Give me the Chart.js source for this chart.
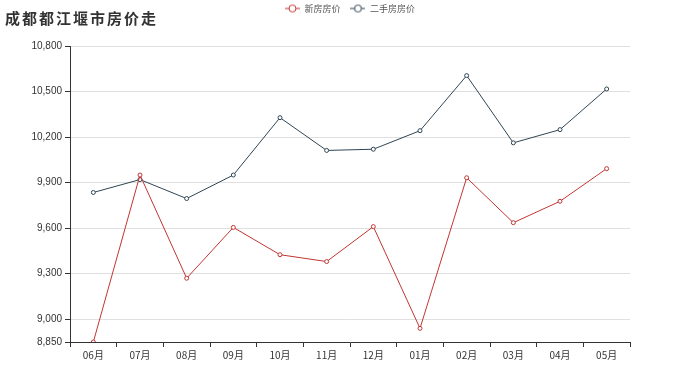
<!DOCTYPE html>
<html><head><meta charset="utf-8">
<script src="https://cdn.jsdelivr.net/npm/chart.js@4/dist/chart.umd.min.js"></script>
<style>
html,body{margin:0;padding:0;background:#fff;}
#wrap{position:relative;width:700px;height:389px;}
#title{position:absolute;left:5px;top:7px;font:bold 15px "Noto Sans CJK SC",sans-serif;letter-spacing:2px;color:#333;}
</style></head>
<body><div id="wrap"><div id="title">成都都江堰市房价走</div><canvas id="c" width="700" height="389"></canvas></div>
<script>
const categories = ['06月','07月','08月','09月','10月','11月','12月','01月','02月','03月','04月','05月'];
const newHouse = [8850, 9950, 9270, 9605, 9425, 9380, 9610, 8940, 9932, 9636, 9777, 9992];
const secondHand = [9835, 9920, 9795, 9950, 10328, 10112, 10120, 10242, 10605, 10162, 10249, 10517];
const yTicks = [8850, 9000, 9300, 9600, 9900, 10200, 10500, 10800];
const seriesNames = ['新房房价', '二手房房价'];
const colors = ['#c23531', '#2f4554'];

function legendIcon(color){
  const c = document.createElement('canvas');
  c.width = 15; c.height = 10;
  const x = c.getContext('2d');
  x.strokeStyle = color; x.lineWidth = 1;
  x.beginPath(); x.moveTo(0,5); x.lineTo(15,5); x.stroke();
  x.fillStyle = '#fff';
  x.beginPath(); x.arc(7.5,5,3.5,0,Math.PI*2); x.fill(); x.stroke();
  return c;
}
const icons = colors.map(legendIcon);

const legendLayout = {
  id: 'legendLayout',
  beforeLayout(chart){
    const lg = chart.legend;
    if (lg && !lg._patched){
      const orig = lg.fit.bind(lg);
      lg.fit = function(){ orig(); this.height = 52; };
      lg._patched = true;
    }
  },
  afterLayout(chart){
    const lg = chart.legend;
    if (lg){ lg.left += 35; lg.right += 35; }
  }
};

new Chart(document.getElementById('c'), {
  type: 'line',
  data: {
    labels: categories,
    datasets: [
      {label: seriesNames[0], data: newHouse, borderColor: colors[0], backgroundColor: '#fff', borderWidth: 1, pointRadius: 2, pointBorderWidth: 1, pointStyle: 'circle', tension: 0},
      {label: seriesNames[1], data: secondHand, borderColor: colors[1], backgroundColor: '#fff', borderWidth: 1, pointRadius: 2, pointBorderWidth: 1, pointStyle: 'circle', tension: 0}
    ]
  },
  plugins: [legendLayout],
  options: {
    responsive: false,
    animation: false,
    layout: {padding: {left: 0, right: 70, top: -6, bottom: 26}},
    plugins: {
      title: {display: false},
      tooltip: {enabled: false},
      legend: {
        display: true, position: 'top', align: 'center',
        labels: {
          usePointStyle: true, pointStyleWidth: 15,
          generateLabels: (chart) => seriesNames.map((n,i)=>({text: n, pointStyle: icons[i], fillStyle:'#fff', strokeStyle: colors[i], lineWidth:1, datasetIndex: i, fontColor:'#555'})),
          font: {size: 9, family: '"Noto Sans CJK SC", sans-serif'},
          color: '#555', padding: 10, boxHeight: 10
        }
      }
    },
    scales: {
      x: {
        offset: true,
        grid: {display: true, offset: true, drawOnChartArea: false, drawTicks: true, tickLength: 5, color: '#333'},
        border: {display: true, color: '#333', width: 1},
        ticks: {color: '#333', font: {size: 10, family: '"Noto Sans CJK SC", sans-serif'}, padding: 2, maxRotation: 0, autoSkip: false}
      },
      y: {
        min: 8850, max: 10800,
        afterBuildTicks: (s) => { s.ticks = yTicks.map(v => ({value: v})); },
        afterFit: (s) => { s.width = 70; },
        grid: {color: (ctx) => ctx.tick && ctx.tick.value === 8850 ? 'rgba(0,0,0,0)' : '#e0e0e0', tickColor: '#333', tickLength: 5, drawTicks: true},
        border: {display: true, color: '#333', width: 1},
        ticks: {color: '#333', font: {size: 10, family: 'Arial, "Liberation Sans", sans-serif'}, padding: 3,
          callback: (v) => v.toLocaleString('en-US')}
      }
    }
  }
});
</script></body></html>
